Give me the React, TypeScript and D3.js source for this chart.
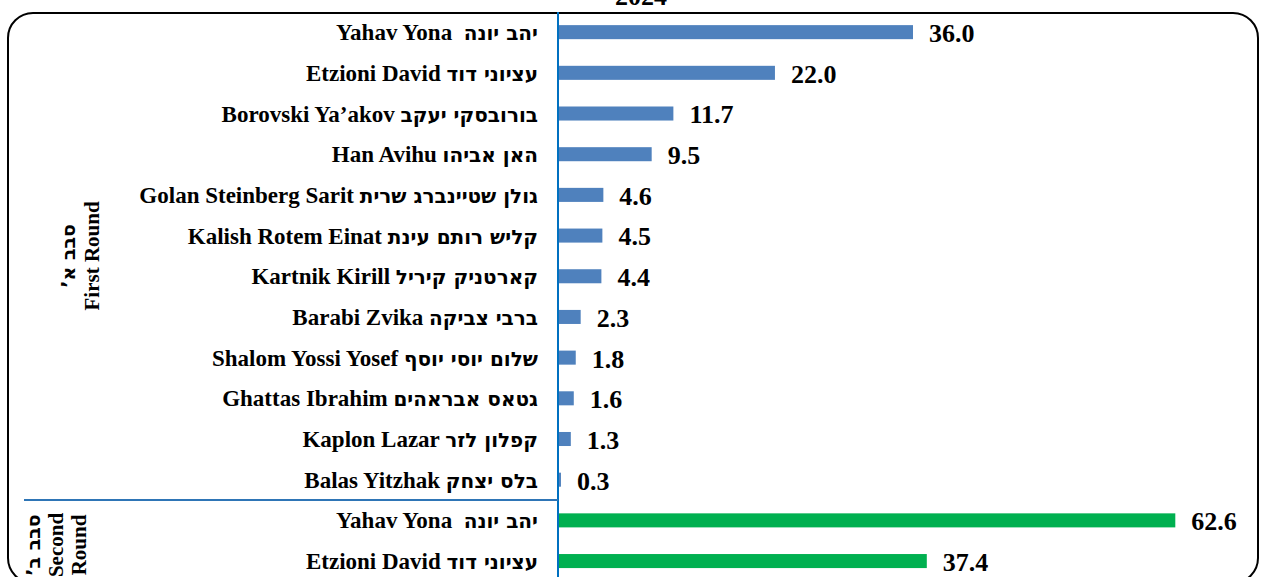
import * as d3 from "d3";
import { useEffect, useRef } from "react";

const round1En = ["Yahav Yona", "Etzioni David", "Borovski Ya’akov", "Han Avihu", "Golan Steinberg Sarit", "Kalish Rotem Einat", "Kartnik Kirill", "Barabi Zvika", "Shalom Yossi Yosef", "Ghattas Ibrahim", "Kaplon Lazar", "Balas Yitzhak"];
const round1He = ["יהב יונה", "עציוני דוד", "בורובסקי יעקב", "האן אביהו", "גולן שטיינברג שרית", "קליש רותם עינת", "קארטניק קיריל", "ברבי צביקה", "שלום יוסי יוסף", "גטאס אבראהים", "קפלון לזר", "בלס יצחק"];
const round1Values = [36.0, 22.0, 11.7, 9.5, 4.6, 4.5, 4.4, 2.3, 1.8, 1.6, 1.3, 0.3];

const round2En = ["Yahav Yona", "Etzioni David"];
const round2He = ["יהב יונה", "עציוני דוד"];
const round2Values = [62.6, 37.4];

// first entry of each group is Hebrew, the rest English
const groupLabels = [
  ["סבב א’\u200F", "First Round"],
  ["סבב ב’\u200F", "Second", "Round"],
];

const titleText = "2024";

export default function App() {
  const ref = useRef<SVGSVGElement>(null);

  useEffect(() => {
    document.body.style.margin = "0";
    const svg = d3.select(ref.current);
    svg.selectAll("*").remove();

    const H = 577;
    const serif = "'Liberation Serif', 'Times New Roman', serif";
    const heb = "'DejaVu Sans', sans-serif";

    const rows = [
      ...round1En.map((en, i) => ({ en, he: round1He[i], v: round1Values[i], round: 1 })),
      ...round2En.map((en, i) => ({ en, he: round2He[i], v: round2Values[i], round: 2 })),
    ];

    const y = d3.scaleBand<number>()
      .domain(d3.range(rows.length))
      .range([11.7, 11.7 + rows.length * 40.7])
      .paddingInner(0.655)
      .paddingOuter(0.33);

    const x0 = 558;
    const x = d3.scaleLinear().domain([0, 36]).range([x0, 913]);

    // frame
    svg.append("rect")
      .attr("x", 8)
      .attr("y", 13)
      .attr("width", 1250)
      .attr("height", 570)
      .attr("rx", 25)
      .attr("fill", "none")
      .attr("stroke", "#000")
      .attr("stroke-width", 2);

    // title (cut off at the top, as in the source)
    svg.append("text")
      .attr("x", 641)
      .attr("y", 5)
      .attr("text-anchor", "middle")
      .attr("font-family", serif)
      .attr("font-weight", "bold")
      .attr("font-size", 26)
      .text(titleText);

    const g = svg.append("g");

    g.selectAll("rect.bar")
      .data(rows)
      .enter()
      .append("rect")
      .attr("class", "bar")
      .attr("x", x0)
      .attr("y", (d, i) => y(i)!)
      .attr("width", (d) => x(d.v) - x0)
      .attr("height", y.bandwidth())
      .attr("fill", (d) => (d.round === 1 ? "#4F81BD" : "#00B050"));

    g.selectAll("text.val")
      .data(rows)
      .enter()
      .append("text")
      .attr("class", "val")
      .attr("x", (d) => x(d.v) + 16)
      .attr("y", (d, i) => y(i)! + y.bandwidth() / 2)
      .attr("dy", "0.38em")
      .attr("font-family", serif)
      .attr("font-weight", "bold")
      .attr("font-size", 26)
      .text((d) => d.v.toFixed(1));

    const names = g.selectAll("text.name")
      .data(rows)
      .enter()
      .append("text")
      .attr("class", "name")
      .attr("x", 538)
      .attr("y", (d, i) => y(i)! + y.bandwidth() / 2)
      .attr("dy", "0.35em")
      .attr("text-anchor", "end")
      .attr("direction", "ltr")
      .attr("font-weight", "bold")
      .attr("font-size", 23);
    names.append("tspan")
      .attr("font-family", serif)
      .text((d) => d.en + (d.en === "Yahav Yona" ? "\u00A0\u00A0" : " "));
    names.append("tspan")
      .attr("font-family", heb)
      .attr("font-weight", "bold")
      .attr("font-size", 20)
      .text((d) => d.he);

    // axis and separator
    svg.append("line")
      .attr("x1", x0).attr("x2", x0)
      .attr("y1", 12).attr("y2", H)
      .attr("stroke", "#0070C0")
      .attr("stroke-width", 2);

    const sepY = (y(round1Values.length - 1)! + y.bandwidth() + y(round1Values.length)!) / 2;
    svg.append("line")
      .attr("x1", 24).attr("x2", x0)
      .attr("y1", sepY).attr("y2", sepY)
      .attr("stroke", "#2E75B6")
      .attr("stroke-width", 2);

    // group labels
    const centers = [
      [80, (y(0)! + y(round1Values.length - 1)! + y.bandwidth()) / 2],
      [56, 545],
    ];
    groupLabels.forEach((lines, gi) => {
      const [cx, cy] = centers[gi];
      const t = svg.append("text")
        .attr("transform", `translate(${cx},${cy}) rotate(-90)`)
        .attr("text-anchor", "middle")
        .attr("font-weight", "bold")
        .attr("font-size", 21);
      const lh = 23;
      lines.forEach((line, li) => {
        t.append("tspan")
          .attr("x", 0)
          .attr("y", (li - (lines.length - 1) / 2) * lh)
          .attr("dy", "0.35em")
          .attr("font-family", li === 0 ? heb : serif)
          .attr("font-size", li === 0 ? 19 : 21)
          .text(line);
      });
    });
  }, []);

  return (
    <div style={{ width: 1261, height: 577, overflow: "hidden" }}>
      <svg ref={ref} width={1261} height={577} style={{ display: "block", background: "#fff" }} />
    </div>
  );
}
